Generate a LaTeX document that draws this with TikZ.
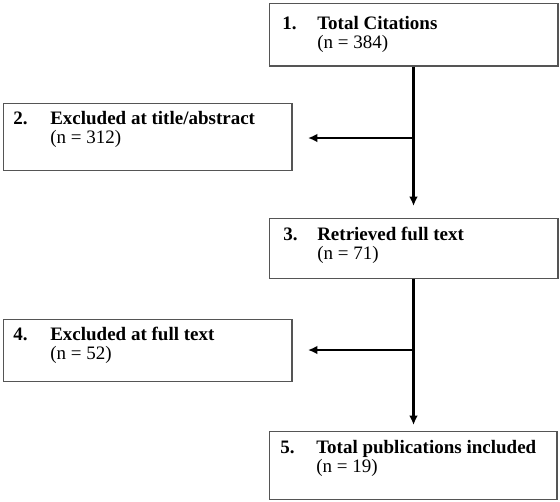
\documentclass[tikz,border=0pt]{standalone}
\usepackage{fontspec}
\setmainfont{Liberation Serif}
\usetikzlibrary{arrows.meta}
\definecolor{boxgray}{RGB}{85,85,85}
\tikzset{
  box/.style={draw=boxgray, line width=1.1pt, rectangle, inner sep=0pt, anchor=north west},
  num/.style={anchor=base west, inner sep=0pt, font=\fontsize{14.25pt}{16pt}\selectfont\bfseries},
  ttl/.style={anchor=base west, inner sep=0pt, font=\fontsize{14.25pt}{16pt}\selectfont\bfseries},
  cnt/.style={anchor=base west, inner sep=0pt, font=\fontsize{14.25pt}{16pt}\selectfont},
  varrow/.style={line width=2.25pt, -{Latex[length=7pt,width=6.5pt]}},
  harrow/.style={line width=1.5pt, -{Latex[length=7pt,width=6.5pt]}},
}
\begin{document}
\begin{tikzpicture}[x=0.75pt,y=-0.75pt]
\useasboundingbox (0,0) rectangle (560,501);
% boxes
\node[box, minimum width=216.4pt, minimum height=46.9pt] (b1) at (268.5,2.5) {};
\node[box, minimum width=216.4pt, minimum height=50.25pt] (b2) at (2.5,103) {};
\node[box, minimum width=216.4pt, minimum height=45pt] (b3) at (268.5,218) {};
\node[box, minimum width=216.4pt, minimum height=46.5pt] (b4) at (2.5,319) {};
\node[box, minimum width=215.6pt, minimum height=51pt] (b5) at (269,431) {};
% texts
\node[num] (n1) at (282,29) {1.};
\node[ttl] (t1) at (317,29) {Total Citations};
\node[cnt] (c1) at (317,48) {(n = 384)};
\node[num] (n2) at (13,124) {2.};
\node[ttl] (t2) at (50,124) {Excluded at title/abstract};
\node[cnt] (c2) at (50,143) {(n = 312)};
\node[num] (n3) at (283,240) {3.};
\node[ttl] (t3) at (317,240) {Retrieved full text};
\node[cnt] (c3) at (317,259) {(n = 71)};
\node[num] (n4) at (13,340) {4.};
\node[ttl] (t4) at (50,340) {Excluded at full text};
\node[cnt] (c4) at (50,359) {(n = 52)};
\node[num] (n5) at (280,453) {5.};
\node[ttl] (t5) at (316,453) {Total publications included};
\node[cnt] (c5) at (316,472) {(n = 19)};
% connector points
\coordinate (tip1) at (b1.south |- 0,206);
\coordinate (j1) at (b1.south |- 0,138);
\coordinate (e1) at (308,138);
\coordinate (tip2) at (b3.south |- 0,425);
\coordinate (j2) at (b3.south |- 0,350);
\coordinate (e2) at (308,350);
% connectors
\draw[varrow] (b1.south) -- (tip1);
\draw[harrow] (j1) -- (e1);
\draw[varrow] (b3.south) -- (tip2);
\draw[harrow] (j2) -- (e2);
\end{tikzpicture}
\end{document}
